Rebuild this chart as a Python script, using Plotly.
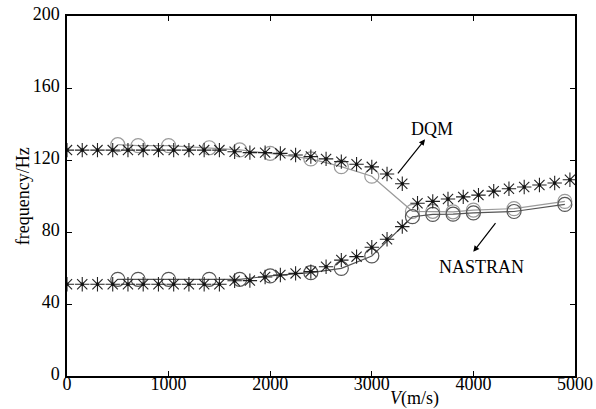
import plotly.graph_objects as go

# ---------------- data ----------------
V_star = [150 * i for i in range(34)]          # DQM sample speeds (m/s)
dqm_mode1 = [125.5] * 11 + [124.6, 124.1, 124.1, 123.7, 122.8, 121.9, 120.6,
                             119.1, 117.6, 116.2, 112.2, 106.8]
dqm_mode2 = [51.0] * 11 + [52.9, 53.0, 55.0, 56.1, 57.0, 58.0, 60.7, 64.4, 66.3,
                            71.5, 76.0, 83.0, 96.0, 97.0, 98.3, 99.5, 100.5,
                            102.7, 104.0, 105.0, 106.1, 107.2, 109.0]

V_nas = [500, 700, 1000, 1400, 1700, 2000, 2400, 2700, 3000, 3400, 3600, 3800, 4000, 4400, 4900]
nas_mode1 = [128.5, 128.0, 128.0, 126.8, 125.6, 123.7, 120.6, 116.3, 111.0,
             91.5, 91.5, 91.2, 92.2, 93.0, 97.0]
nas_mode2 = [53.7, 53.7, 53.7, 53.7, 53.7, 55.6, 57.4, 59.8, 66.7,
             88.5, 89.8, 89.9, 90.6, 91.4, 95.3]

x_ticks = [0, 1000, 2000, 3000, 4000, 5000]
y_ticks = [0, 40, 80, 120, 160, 200]

FONT = "Liberation Serif"

fig = go.Figure()

fig.add_trace(go.Scatter(x=V_nas, y=nas_mode1, mode="lines+markers", name="NASTRAN 1",
                         line=dict(color="#9a9a9a", width=1.2),
                         marker=dict(symbol="circle-open", size=14, color="#9a9a9a",
                                     line=dict(color="#9a9a9a", width=1.2))))
fig.add_trace(go.Scatter(x=V_nas, y=nas_mode2, mode="lines+markers", name="NASTRAN 2",
                         line=dict(color="#555555", width=1.2),
                         marker=dict(symbol="circle-open", size=14, color="#555555",
                                     line=dict(color="#555555", width=1.2))))
for vals, nm in ((dqm_mode1, "DQM 1"), (dqm_mode2, "DQM 2")):
    fig.add_trace(go.Scatter(x=V_star[:len(vals)], y=vals, mode="markers", name=nm,
                             marker=dict(symbol="asterisk-open", size=12, color="#222222",
                                         line=dict(color="#222222", width=1.1))))
    fig.add_trace(go.Scatter(x=V_star[:len(vals)], y=vals, mode="markers", name=nm + " c",
                             marker=dict(symbol="square", size=3, color="#111111")))

# annotation arrows
fig.add_annotation(x=3524, y=131.5, ax=3245, ay=111.7, xref="x", yref="y",
                   axref="x", ayref="y", showarrow=True, arrowhead=2, arrowsize=1,
                   arrowwidth=1.2, arrowcolor="black", text="")
fig.add_annotation(x=3590, y=137, text="DQM", showarrow=False,
                   font=dict(family=FONT, size=18, color="black"))
fig.add_annotation(x=3999, y=69, ax=4229, ay=85.7, xref="x", yref="y",
                   axref="x", ayref="y", showarrow=True, arrowhead=2, arrowsize=1,
                   arrowwidth=1.2, arrowcolor="black", text="")
fig.add_annotation(x=4082, y=60.5, text="NASTRAN", showarrow=False,
                   font=dict(family=FONT, size=18, color="black"))

# axis titles
fig.add_annotation(x=0.685, y=-0.028, xref="paper", yref="paper",
                   xanchor="center", yanchor="top",
                   text="<i>V</i>(m/s)", showarrow=False,
                   font=dict(family=FONT, size=18, color="black"))
fig.add_annotation(x=-0.086, y=0.5, xref="paper", yref="paper", textangle=-90,
                   xanchor="center", yanchor="middle",
                   text="frequency/Hz", showarrow=False,
                   font=dict(family=FONT, size=18, color="black"))

fig.update_layout(
    width=596, height=409,
    margin=dict(l=67, r=21, t=16, b=33),
    paper_bgcolor="white", plot_bgcolor="white",
    showlegend=False,
    font=dict(family=FONT, size=18, color="black"),
)
fig.update_xaxes(range=[0, 5000], tickvals=x_ticks, ticktext=[str(v) for v in x_ticks],
                 ticks="inside", ticklen=5, tickwidth=1.2, tickcolor="black",
                 showline=True, linecolor="black", linewidth=1.5, mirror="ticks",
                 showgrid=False, zeroline=False, automargin=False,
                 ticklabelstandoff=-9,
                 tickfont=dict(family=FONT, size=18, color="black"))
fig.update_yaxes(range=[0, 200], tickvals=y_ticks, ticktext=[str(v) for v in y_ticks],
                 ticks="inside", ticklen=5, tickwidth=1.2, tickcolor="black",
                 showline=True, linecolor="black", linewidth=1.5, mirror="ticks",
                 showgrid=False, zeroline=False, automargin=False,
                 ticklabelshift=-2, ticklabelstandoff=2,
                 tickfont=dict(family=FONT, size=18, color="black"))

fig.write_html("out.html", config={"displayModeBar": False},
               post_script="document.body.style.margin='0';document.body.style.overflow='hidden';")
